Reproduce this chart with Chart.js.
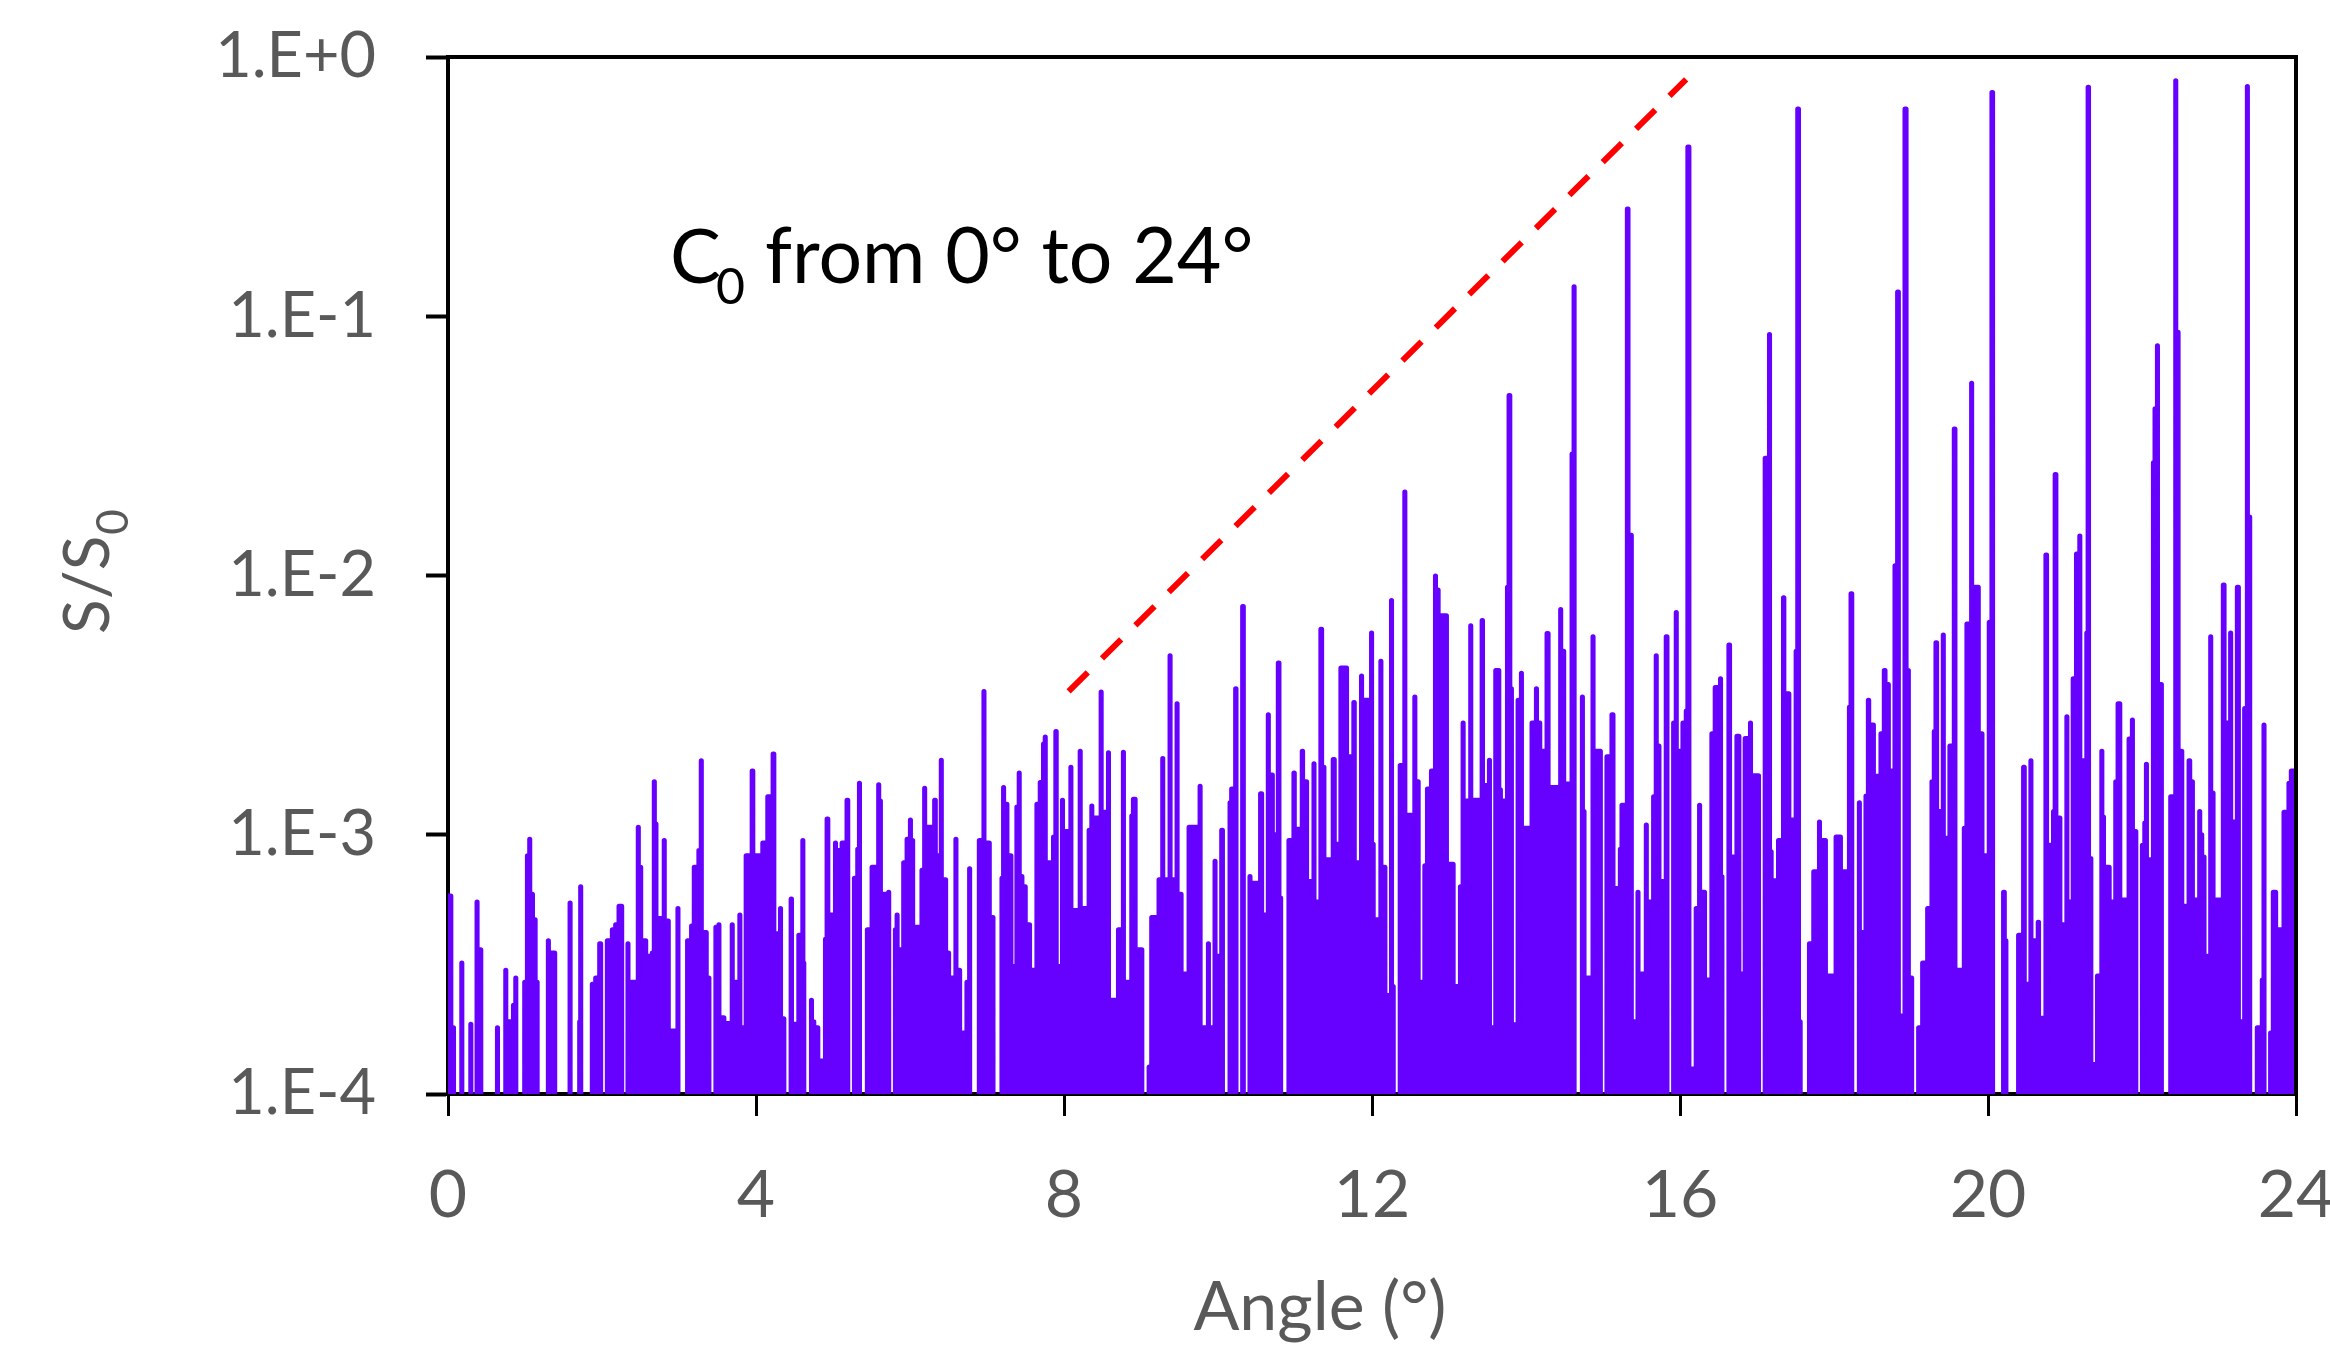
<!DOCTYPE html>
<html><head><meta charset="utf-8">
<script src="https://cdn.jsdelivr.net/npm/chart.js@4.4.0/dist/chart.umd.min.js"></script>
<style>html,body{margin:0;padding:0;background:#fff;}canvas{display:block;}</style>
</head><body>
<canvas id="c" width="2330" height="1353"></canvas>
<script>
// Spectrum S/S0 versus angle (degrees); each value holds until the next angle (stepped trace).
// 1e-5 marks dips below the visible range (below 1.E-4).
const ANGLES = [
0.000,0.000,0.037,0.072,0.179,0.180,0.296,0.297,0.377,0.378,0.426,0.642,0.643,0.750,0.751,0.850,0.880,0.881,0.996,1.031,
1.061,1.062,1.097,1.132,1.158,1.303,1.304,1.386,1.585,1.586,1.710,1.723,1.724,1.874,1.918,1.970,1.983,2.069,2.134,2.177,
2.221,2.256,2.337,2.338,2.471,2.472,2.503,2.568,2.653,2.679,2.680,2.701,2.808,2.809,2.861,2.986,2.987,3.111,3.163,3.198,
3.258,3.289,3.290,3.354,3.389,3.479,3.518,3.519,3.583,3.691,3.692,3.790,3.791,3.872,3.950,3.959,4.088,4.153,4.222,4.232,
4.318,4.319,4.362,4.456,4.461,4.556,4.608,4.609,4.621,4.720,4.721,4.751,4.803,4.902,4.923,4.933,5.032,5.033,5.118,5.182,
5.192,5.278,5.321,5.343,5.344,5.446,5.507,5.593,5.594,5.616,5.723,5.724,5.810,5.832,5.833,5.918,5.962,6.005,6.006,6.035,
6.155,6.190,6.191,6.320,6.329,6.406,6.407,6.463,6.502,6.596,6.597,6.645,6.739,6.774,6.775,6.900,6.960,6.961,7.030,7.078,
7.194,7.215,7.216,7.259,7.311,7.388,7.418,7.419,7.454,7.497,7.553,7.648,7.691,7.734,7.756,7.757,7.864,7.894,7.899,7.980,
7.981,8.089,8.090,8.210,8.211,8.326,8.361,8.362,8.482,8.483,8.577,8.578,8.707,8.771,8.772,8.880,8.901,8.924,9.011,9.105,
9.139,9.234,9.282,9.283,9.377,9.378,9.468,9.469,9.521,9.624,9.767,9.768,9.875,9.876,9.961,9.962,10.048,10.058,10.156,10.177,
10.229,10.234,10.320,10.329,10.415,10.416,10.553,10.567,10.653,10.654,10.706,10.783,10.792,10.814,10.921,10.986,10.991,11.094,11.099,11.151,
11.246,11.247,11.336,11.346,11.376,11.496,11.510,11.596,11.670,11.764,11.770,11.864,11.865,11.994,11.995,12.016,12.115,12.116,12.168,12.253,
12.254,12.276,12.366,12.426,12.427,12.556,12.557,12.600,12.686,12.720,12.772,12.824,12.825,12.859,12.967,13.054,13.148,13.183,13.184,13.282,
13.283,13.430,13.435,13.525,13.526,13.607,13.647,13.668,13.759,13.780,13.790,13.811,13.897,13.940,13.941,14.078,14.135,14.136,14.179,14.273,
14.287,14.450,14.451,14.490,14.598,14.624,14.625,14.732,14.733,14.754,14.870,14.871,14.966,15.051,15.116,15.130,15.225,15.246,15.316,15.325,
15.368,15.454,15.455,15.562,15.563,15.657,15.691,15.692,15.727,15.821,15.831,15.917,15.951,15.952,16.038,16.081,16.102,16.116,16.210,16.254,
16.255,16.319,16.414,16.457,16.526,16.527,16.545,16.635,16.644,16.739,16.765,16.846,16.915,16.916,17.020,17.106,17.162,17.163,17.184,17.279,
17.344,17.349,17.414,17.508,17.529,17.539,17.561,17.681,17.737,17.811,17.812,17.889,18.027,18.084,18.200,18.221,18.231,18.329,18.330,18.415,
18.446,18.451,18.512,18.610,18.653,18.663,18.706,18.792,18.826,18.836,18.922,18.936,18.966,19.009,19.099,19.151,19.216,19.272,19.302,19.324,
19.333,19.419,19.420,19.505,19.562,19.571,19.692,19.726,19.787,19.788,19.874,19.922,20.016,20.051,20.060,20.202,20.212,20.233,20.397,20.462,
20.471,20.557,20.558,20.652,20.657,20.752,20.761,20.851,20.872,20.882,20.934,21.024,21.025,21.106,21.149,21.192,21.193,21.283,21.300,21.306,
21.336,21.421,21.478,21.479,21.500,21.574,21.659,21.689,21.712,21.832,21.875,21.876,21.920,22.005,22.036,22.057,22.058,22.148,22.169,22.200,
22.201,22.252,22.373,22.438,22.439,22.469,22.517,22.611,22.620,22.655,22.749,22.750,22.776,22.806,22.892,22.893,22.923,23.056,23.066,23.151,
23.152,23.238,23.252,23.333,23.368,23.369,23.399,23.497,23.562,23.584,23.585,23.670,23.705,23.736,23.844,23.908,23.939,24.000
];
const VALUES = [
1e-5,5.8e-4,1.8e-4,1e-5,3.2e-4,1e-5,1.86e-4,1e-5,5.5e-4,3.6e-4,1e-5,1.8e-4,1e-5,3.0e-4,1.9e-4,2.2e-4,2.8e-4,1e-5,2.7e-4,8.3e-4,
9.6e-4,5.9e-4,4.7e-4,2.7e-4,1e-5,3.9e-4,3.5e-4,1e-5,5.45e-4,1e-5,1.9e-4,6.3e-4,1e-5,2.65e-4,2.8e-4,3.8e-4,1e-5,3.9e-4,4.3e-4,4.5e-4,
5.3e-4,1e-5,3.8e-4,2.7e-4,1.07e-3,7.5e-4,3.9e-4,3.4e-4,3.5e-4,1.6e-3,1.1e-3,4.75e-4,9.5e-4,4.65e-4,1.75e-4,5.2e-4,1e-5,3.9e-4,4.45e-4,7.5e-4,
8.7e-4,1.93e-3,4.2e-4,2.8e-4,1e-5,4.4e-4,4.5e-4,1.97e-4,1.87e-4,4.5e-4,2.7e-4,4.9e-4,1.8e-4,8.3e-4,1.76e-3,8.3e-4,9.3e-4,1.4e-3,2.05e-3,4.15e-4,
5.2e-4,1.95e-4,1e-5,5.65e-4,1.86e-4,4.1e-4,9.5e-4,3.2e-4,1e-5,2.3e-4,1.9e-4,1.8e-4,1.34e-4,3.95e-4,1.15e-3,4.9e-4,9.3e-4,8.7e-4,9.3e-4,1.36e-3,
1e-5,6.8e-4,8.8e-4,1.58e-3,1e-5,4.3e-4,7.5e-4,1.56e-3,1.35e-3,5.9e-4,6.0e-4,1e-5,4.3e-4,4.9e-4,3.6e-4,7.8e-4,9.6e-4,1.14e-3,9.5e-4,4.4e-4,
7.3e-4,1.51e-3,1.07e-3,1.36e-3,8.3e-4,1.94e-3,6.7e-4,3.5e-4,2.8e-4,9.6e-4,3.0e-4,1.72e-4,2.7e-4,7.4e-4,1e-5,9.5e-4,3.57e-3,9.3e-4,4.8e-4,1e-5,
6.8e-4,1.52e-3,1.31e-3,8.3e-4,3.1e-4,1.28e-3,1.73e-3,6.9e-4,6.3e-4,4.5e-4,3.0e-4,1.31e-3,1.59e-3,2.24e-3,2.38e-3,7.8e-4,9.8e-4,2.5e-3,3.1e-4,1.36e-3,
1.03e-3,1.82e-3,5.1e-4,2.1e-3,5.2e-4,1.04e-3,1.29e-3,1.16e-3,3.55e-3,1.22e-3,2.07e-3,2.3e-4,4.3e-4,2.08e-3,2.7e-4,1.18e-3,1.37e-3,3.6e-4,1e-5,1.27e-4,
4.8e-4,6.7e-4,1.97e-3,6.7e-4,4.9e-3,6.7e-4,3.2e-3,5.9e-4,2.9e-4,1.07e-3,1.54e-3,1.8e-4,3.8e-4,1.8e-4,7.9e-4,3.4e-4,1.04e-3,1e-5,1.33e-3,1.5e-3,
3.66e-3,1e-5,7.6e-3,1e-5,6.9e-4,6.5e-4,1.44e-3,4.9e-4,2.9e-3,1.7e-3,1.0e-3,4.6e-3,5.7e-4,1e-5,9.5e-4,1.73e-3,1.05e-3,2.1e-3,1.6e-3,6.6e-4,
1.88e-3,5.5e-4,6.2e-3,1.82e-3,8.0e-4,1.95e-3,9.2e-4,4.4e-3,2.0e-3,3.24e-3,7.8e-4,4.1e-3,3.3e-3,6.0e-3,9.2e-4,4.7e-4,4.67e-3,7.5e-4,2.4e-4,8.0e-3,
2.6e-4,1e-5,1.85e-3,2.1e-2,1.19e-3,3.4e-3,1.6e-3,2.7e-4,7.6e-4,1.5e-3,1.76e-3,9.95e-3,8.8e-3,7.0e-3,7.7e-4,2.6e-4,6.3e-4,2.7e-3,1.35e-3,6.4e-3,
1.36e-3,6.7e-3,1.55e-3,1.94e-3,1.8e-4,4.3e-3,1.49e-3,1.35e-3,9.0e-3,4.95e-2,3.66e-3,1.85e-4,3.3e-3,4.2e-3,1.06e-3,2.7e-3,3.66e-3,2.7e-3,2.1e-3,5.97e-3,
1.52e-3,7.4e-3,5.1e-3,1.57e-3,2.94e-2,0.130,1e-5,3.4e-3,1.23e-3,2.8e-4,5.8e-3,2.1e-3,1e-5,2.0e-3,2.9e-3,6.2e-4,8.8e-4,1.3e-3,0.259,1.43e-2,
1.9e-4,6.0e-4,2.9e-4,1.09e-3,5.5e-4,1.4e-3,4.9e-3,2.2e-3,6.6e-4,5.8e-3,1e-5,2.7e-3,7.2e-3,2.1e-3,2.7e-3,3.0e-3,0.45,1.25e-4,5.2e-4,1.3e-3,
6.0e-4,2.75e-4,2.45e-3,3.7e-3,4.0e-3,6.9e-4,1e-5,5.4e-3,8.2e-4,2.4e-3,2.9e-4,2.35e-3,2.7e-3,1.69e-3,1e-5,2.83e-2,0.085,8.6e-4,6.65e-4,9.5e-4,
8.2e-3,3.5e-3,1.14e-3,5.1e-3,0.63,1.9e-4,1e-5,3.8e-4,7.2e-4,1.12e-3,9.5e-4,2.85e-4,9.8e-4,7.2e-4,3.1e-3,8.5e-3,1e-5,1.33e-3,4.2e-4,1.41e-3,
3.3e-3,2.65e-3,1.68e-3,2.45e-3,4.3e-3,3.8e-3,1.76e-3,1.09e-2,0.124,2.0e-4,0.63,4.3e-3,2.8e-4,1e-5,1.8e-4,3.2e-4,5.2e-4,1.6e-3,2.5e-3,5.5e-3,
1.23e-3,5.9e-3,9.7e-4,2.2e-3,3.67e-2,3.0e-4,1.06e-3,6.5e-3,5.52e-2,9.0e-3,2.45e-3,8.3e-4,6.6e-3,0.73,1e-5,6.0e-4,3.9e-4,1e-5,4.1e-4,1.82e-3,
2.65e-4,1.93e-3,3.9e-4,4.6e-4,1.96e-4,1.2e-2,9.1e-4,1.23e-3,2.45e-2,1.16e-3,4.5e-4,2.85e-3,5.5e-4,4.0e-3,1.21e-2,1.42e-2,1.93e-3,6.0e-3,0.764,8.1e-4,
1.3e-4,2.85e-4,2.1e-3,1.17e-3,7.5e-4,5.5e-4,1.6e-3,3.2e-3,5.6e-4,2.34e-3,2.77e-3,1.03e-3,1e-5,9.1e-4,1.11e-3,1.87e-3,8.0e-4,2.72e-2,4.4e-2,7.69e-2,
3.8e-3,1e-5,1.4e-3,0.81,8.67e-2,2.1e-3,5.3e-4,1.93e-3,1.6e-3,5.6e-4,1.23e-3,1.0e-3,8.2e-4,3.4e-4,5.8e-3,1.45e-3,5.6e-4,9.2e-3,2.7e-3,6.0e-3,
1.12e-3,9.0e-3,1.9e-4,3.07e-3,0.77,1.68e-2,1e-5,1.8e-4,2.75e-4,2.65e-3,1e-5,1.72e-4,6.0e-4,4.3e-4,1.22e-3,1.58e-3,1.76e-3,1.76e-3
];
// Red dashed guide line (start and end)
const TREND_ANGLES = [8.06, 16.08];
const TREND_VALUES = [3.57e-3, 0.82];
const X_TICKS = [0, 4, 8, 12, 16, 20, 24];
const X_TICK_LABELS = ['0', '4', '8', '12', '16', '20', '24'];
const Y_TICKS = [1e-4, 1e-3, 1e-2, 1e-1, 1];
const Y_TICK_LABELS = ['1.E-4', '1.E-3', '1.E-2', '1.E-1', '1.E+0'];
const X_TITLE = 'Angle (°)';
const ANNOTATION_MAIN = 'C';
const ANNOTATION_SUB = '0';
const ANNOTATION_REST = 'from 0° to 24°';

const GRAY = '#595959';
const FONT = 'Lato';

const spectrum = ANGLES.map((a, i) => ({x: a, y: VALUES[i]}));
const trend = TREND_ANGLES.map((a, i) => ({x: a, y: TREND_VALUES[i]}));

const decor = {
  id: 'decor',
  afterDatasetsDraw(chart) {
    const {ctx, chartArea: a} = chart;
    ctx.save();
    ctx.strokeStyle = '#000';
    ctx.lineWidth = 4;
    ctx.beginPath();
    ctx.moveTo(a.left - 2, a.top);
    ctx.lineTo(a.right, a.top);
    ctx.lineTo(a.right, a.bottom + 2);
    ctx.stroke();
    ctx.restore();
  },
  afterDraw(chart) {
    const ctx = chart.ctx;
    ctx.save();
    ctx.fillStyle = '#000';
    ctx.textBaseline = 'alphabetic';
    ctx.textAlign = 'left';
    ctx.font = '76px ' + FONT;
    ctx.fillText(ANNOTATION_MAIN, 670, 283);
    ctx.font = '50px ' + FONT;
    ctx.fillText(ANNOTATION_SUB, 716, 304);
    ctx.font = '77px ' + FONT;
    ctx.fillText(ANNOTATION_REST, 765, 283);
    ctx.fillStyle = GRAY;
    ctx.textAlign = 'center';
    ctx.font = '68px ' + FONT;
    ctx.fillText(X_TITLE, 1320, 1330);
    ctx.translate(109, 634);
    ctx.rotate(-Math.PI / 2);
    ctx.textAlign = 'left';
    ctx.font = '64px ' + FONT;
    ctx.fillText('S/S', 0, 0);
    const w = ctx.measureText('S/S').width;
    ctx.font = '44px ' + FONT;
    ctx.fillText('0', w + 1, 19);
    ctx.restore();
  }
};

function draw() {
  new Chart(document.getElementById('c'), {
    type: 'line',
    data: {
      datasets: [
        {
          data: trend,
          borderColor: '#FF0000',
          borderWidth: 6,
          borderDash: [27, 20],
          borderCapStyle: 'butt',
          pointRadius: 0,
          tension: 0,
          fill: false
        },
        {
          data: spectrum,
          borderColor: '#6600FF',
          backgroundColor: '#6600FF',
          borderWidth: 5,
          stepped: true,
          borderJoinStyle: 'round',
          borderCapStyle: 'butt',
          pointRadius: 0,
          tension: 0,
          fill: 'start'
        }
      ]
    },
    options: {
      responsive: false,
      animation: false,
      devicePixelRatio: 1,
      layout: {padding: {top: 57, right: 34, bottom: 0, left: 0}},
      plugins: {legend: {display: false}, tooltip: {enabled: false}, filler: {propagate: false}},
      scales: {
        x: {
          type: 'linear', min: 0, max: 24,
          afterBuildTicks: s => { s.ticks = X_TICKS.map(v => ({value: v})); },
          afterFit: s => { s.height = 259; s.paddingLeft = 0; s.paddingRight = 0; },
          grid: {display: true, drawOnChartArea: false, drawTicks: true, tickLength: 22, tickWidth: 3, tickColor: '#000', color: '#000'},
          border: {display: true, color: '#000', width: 4},
          ticks: {
            color: GRAY, font: {family: FONT, size: 66}, padding: 40,
            maxRotation: 0, autoSkip: false,
            callback: (v, i) => X_TICK_LABELS[i]
          }
        },
        y: {
          type: 'logarithmic', min: 1e-4, max: 1,
          afterBuildTicks: s => { s.ticks = Y_TICKS.map(v => ({value: v, major: true})); },
          afterFit: s => { s.width = 448; s.paddingTop = 0; s.paddingBottom = 0; },
          grid: {display: true, drawOnChartArea: false, drawTicks: true, tickLength: 22, tickWidth: 4, tickColor: '#000', color: '#000'},
          border: {display: true, color: '#000', width: 4},
          ticks: {
            color: GRAY, font: {family: FONT, size: 63}, padding: 50,
            autoSkip: false,
            callback: (v, i) => Y_TICK_LABELS[i]
          }
        }
      }
    },
    plugins: [decor]
  });
}
if (document.fonts && document.fonts.load) {
  Promise.all([document.fonts.load('66px Lato'), document.fonts.load('76px Lato')]).then(draw, draw);
} else { draw(); }
</script>
</body></html>
